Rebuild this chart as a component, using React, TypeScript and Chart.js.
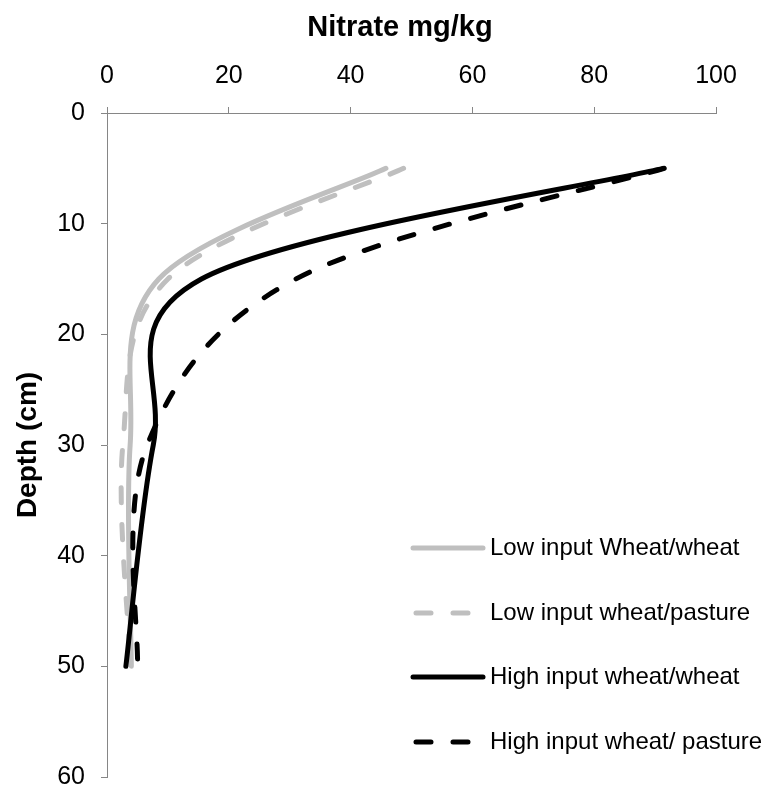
import React, { useEffect, useRef } from "react";
import { Chart, registerables } from "chart.js";

Chart.register(...registerables);

const depths = [5, 15, 30, 50];
const lowWheatWheat = [45.8, 8.5, 3.8, 4.0];
const lowWheatPasture = [48.7, 10, 2.6, 3.9];
const highWheatWheat = [91.3, 15.5, 7.6, 3.1];
const highWheatPasture = [91.5, 31, 6.6, 5.0];

const seriesLabels = [
  "Low input Wheat/wheat",
  "Low input wheat/pasture",
  "High input wheat/wheat",
  "High input wheat/ pasture",
];

const xTitle = "Nitrate mg/kg";
const yTitle = "Depth (cm)";

const FONT = "'Liberation Sans', Arial, sans-serif";
const GREY = "#BFBFBF";
const BLACK = "#000000";
const AXIS = "#868686";

const toPoints = (vals: number[]) => vals.map((v, i) => ({ x: v, y: depths[i] }));

// Spreadsheet-style smoothing: Catmull-Rom control points computed from the
// pixel positions that Chart.js's scales gave each point.
const smoothPlugin = {
  id: "sheetSmooth",
  beforeDatasetDraw(chart: any, args: any) {
    const meta = args.meta;
    const line = meta.dataset;
    if (!line || !line.points) return;
    line.updateControlPoints(chart.chartArea, meta.iScale ? meta.iScale.axis : "x");
    const pts = line.points;
    const n = pts.length;
    for (let i = 0; i < n; i++) {
      const p = pts[i];
      const prev = pts[Math.max(i - 1, 0)];
      const next = pts[Math.min(i + 1, n - 1)];
      const dx = (next.x - prev.x) / 6;
      const dy = (next.y - prev.y) / 6;
      p.cp1x = p.x - dx;
      p.cp1y = p.y - dy;
      p.cp2x = p.x + dx;
      p.cp2y = p.y + dy;
    }
  },
};

const titlePlugin = {
  id: "topTitle",
  afterDraw(chart: any) {
    const ctx = chart.ctx;
    ctx.save();
    ctx.fillStyle = "#000";
    ctx.font = `bold 29px ${FONT}`;
    ctx.textAlign = "center";
    ctx.textBaseline = "middle";
    ctx.fillText(xTitle, 400, 28);
    ctx.restore();
  },
};

const legendPlugin = {
  id: "insideLegend",
  afterDraw(chart: any) {
    const ctx = chart.ctx;
    const x0 = 413;
    const x1 = 483;
    const rows = [548, 613, 677, 742];
    chart.data.datasets.forEach((ds: any, i: number) => {
      const y = rows[i];
      ctx.save();
      ctx.strokeStyle = ds.borderColor;
      ctx.lineWidth = ds.borderWidth;
      ctx.lineCap = ds.borderCapStyle || "butt";
      ctx.setLineDash(ds.borderDash || []);
      ctx.beginPath();
      ctx.moveTo(x0 + (ds.borderDash && ds.borderDash.length ? 3 : 0), y);
      ctx.lineTo(x1, y);
      ctx.stroke();
      ctx.setLineDash([]);
      ctx.fillStyle = "#000";
      ctx.font = `24px ${FONT}`;
      ctx.textAlign = "left";
      ctx.textBaseline = "middle";
      ctx.fillText(ds.label, 490, y);
      ctx.restore();
    });
  },
};

export default function App() {
  const ref = useRef<HTMLCanvasElement | null>(null);
  useEffect(() => {
    if (!ref.current) return;
    const dashed = [15, 22];
    const chart = new Chart(ref.current, {
      type: "scatter",
      data: {
        datasets: [
          {
            label: seriesLabels[0],
            data: toPoints(lowWheatWheat),
            borderColor: GREY,
            borderWidth: 5,
            showLine: true,
            pointRadius: 0,
            order: 4,
            borderCapStyle: "round",
          },
          {
            label: seriesLabels[1],
            data: toPoints(lowWheatPasture),
            borderColor: GREY,
            borderWidth: 5,
            borderDash: dashed,
            borderCapStyle: "round",
            showLine: true,
            pointRadius: 0,
            order: 3,
          },
          {
            label: seriesLabels[2],
            data: toPoints(highWheatWheat),
            borderColor: BLACK,
            borderWidth: 5,
            showLine: true,
            pointRadius: 0,
            order: 2,
            borderCapStyle: "round",
          },
          {
            label: seriesLabels[3],
            data: toPoints(highWheatPasture),
            borderColor: BLACK,
            borderWidth: 5,
            borderDash: dashed,
            borderCapStyle: "round",
            showLine: true,
            pointRadius: 0,
            order: 1,
          },
        ] as any,
      },
      options: {
        animation: false,
        responsive: false,
        layout: { padding: { left: 0, top: 0, right: 55, bottom: 12 } },
        elements: { line: { tension: 0.4 } },
        plugins: {
          legend: { display: false },
          tooltip: { enabled: false },
        },
        scales: {
          x: {
            type: "linear",
            position: "top",
            min: 0,
            max: 100,
            ticks: {
              stepSize: 20,
              color: "#000",
              padding: 16,
              font: { family: FONT, size: 25 },
            },
            grid: {
              drawOnChartArea: false,
              drawTicks: true,
              tickLength: 6,
              color: AXIS,
            },
            border: { color: AXIS, width: 1 },
            title: { display: false },
            afterFit: (s: any) => {
              s.height = 113;
              s.paddingLeft = 0;
              s.paddingRight = 0;
            },
          },
          y: {
            type: "linear",
            position: "left",
            reverse: true,
            min: 0,
            max: 60,
            ticks: {
              stepSize: 10,
              color: "#000",
              padding: 16,
              font: { family: FONT, size: 25 },
            },
            grid: {
              drawOnChartArea: false,
              drawTicks: true,
              tickLength: 6,
              color: AXIS,
            },
            border: { color: AXIS, width: 1 },
            title: {
              display: true,
              text: yTitle,
              color: "#000",
              font: { family: FONT, size: 28, weight: "bold" },
              padding: { top: 11, bottom: 0 },
            },
            afterFit: (s: any) => {
              s.width = 107;
              s.paddingTop = 0;
              s.paddingBottom = 0;
            },
          },
        },
      } as any,
      plugins: [smoothPlugin, titlePlugin, legendPlugin],
    });
    return () => chart.destroy();
  }, []);
  return (
    <div style={{ position: "absolute", left: 0, top: 0, width: 771, height: 789, background: "#fff" }}>
      <canvas ref={ref} width={771} height={789} style={{ display: "block" }} />
    </div>
  );
}
